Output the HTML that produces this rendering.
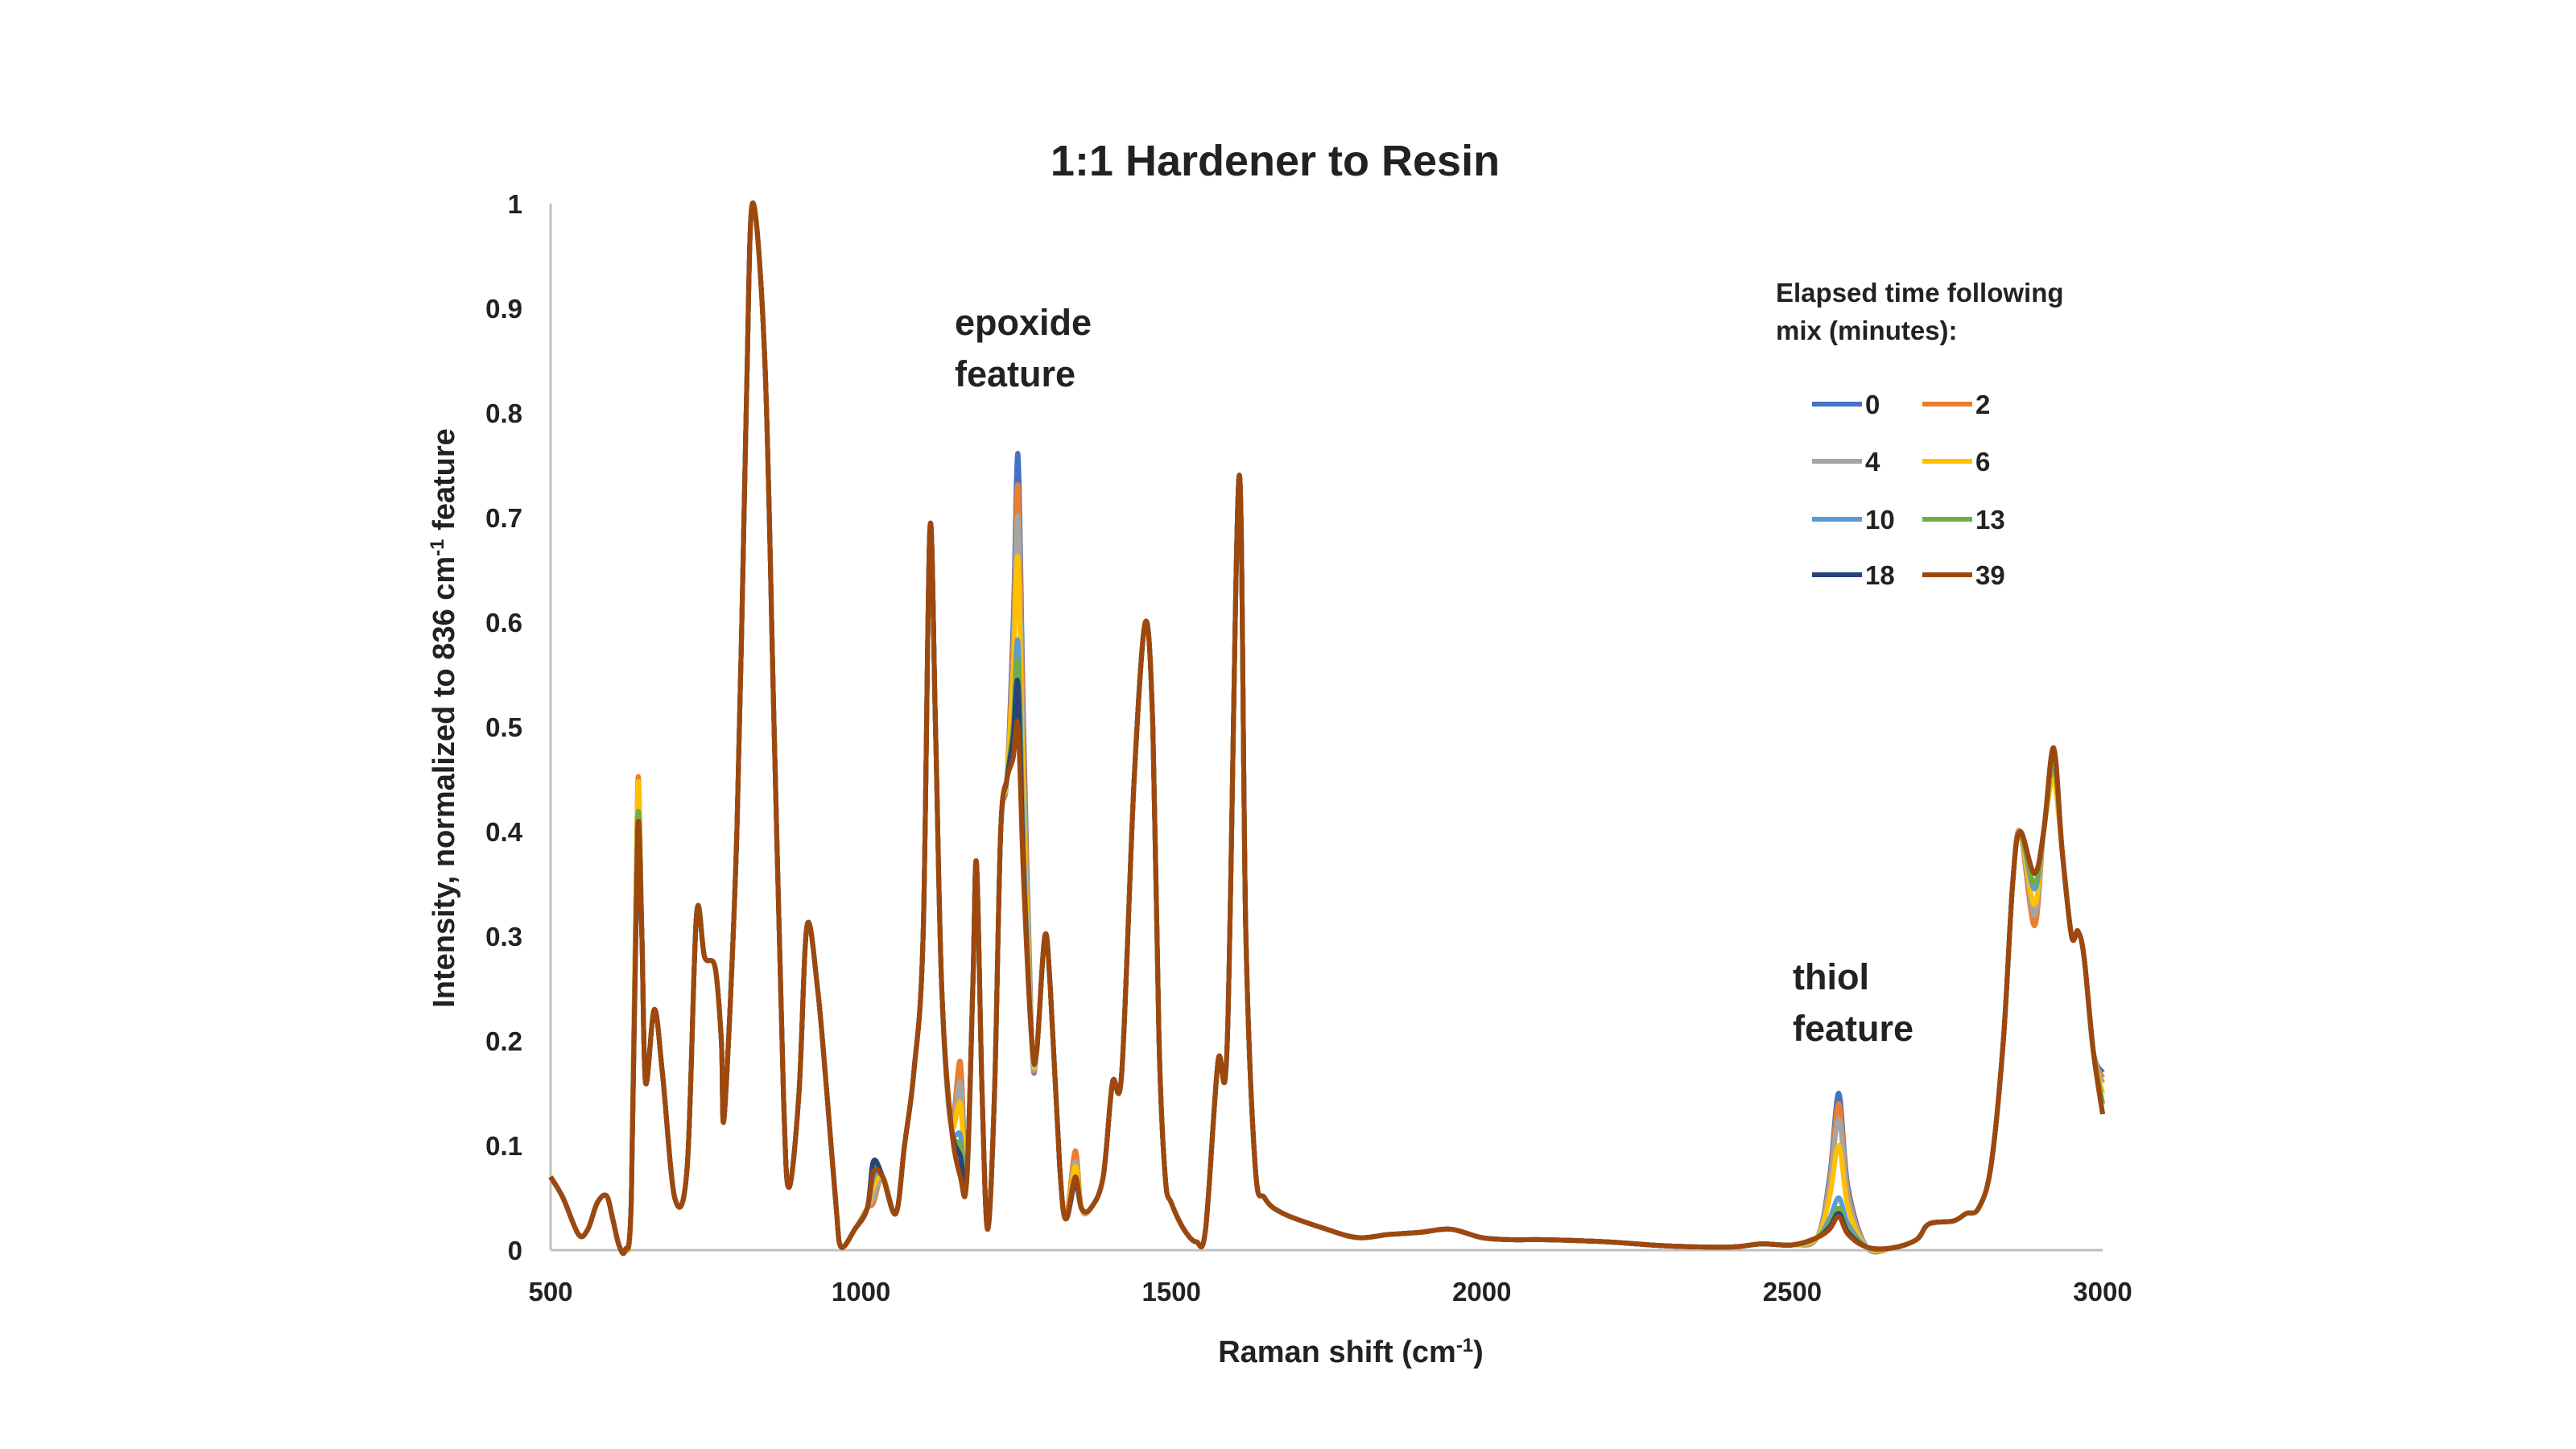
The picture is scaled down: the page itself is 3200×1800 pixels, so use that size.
<!DOCTYPE html>
<html><head><meta charset="utf-8"><style>
html,body{margin:0;padding:0;background:#fff;}
svg{display:block;font-family:"Liberation Sans",sans-serif;}
</style></head><body>
<svg id="chart" width="3200" height="1800" viewBox="0 0 3200 1800" xmlns="http://www.w3.org/2000/svg">
<rect width="3200" height="1800" fill="#fff"/>
<text x="1584" y="218" text-anchor="middle" font-size="54" font-weight="bold" fill="#222">1:1 Hardener to Resin</text>
<g id="axes"></g>
<g id="series"></g>
<text x="1186" y="416" font-size="45" font-weight="bold" fill="#222">epoxide</text>
<text x="1186" y="480" font-size="45" font-weight="bold" fill="#222">feature</text>
<text x="2227" y="1229" font-size="45" font-weight="bold" fill="#222">thiol</text>
<text x="2227" y="1293" font-size="45" font-weight="bold" fill="#222">feature</text>
<text x="1678" y="1692" text-anchor="middle" font-size="38" font-weight="bold" fill="#222">Raman shift (cm<tspan baseline-shift="super" font-size="24">-1</tspan>)</text>
<text transform="translate(564,892) rotate(-90)" text-anchor="middle" font-size="38" font-weight="bold" fill="#222">Intensity, normalized to 836 cm<tspan baseline-shift="super" font-size="24">-1</tspan> feature</text>
<g id="legend">
<text x="2206" y="375" font-size="33" font-weight="bold" fill="#222">Elapsed time following</text>
<text x="2206" y="422" font-size="33" font-weight="bold" fill="#222">mix (minutes):</text>
</g>
</svg>
<script>
const seriesLabels = ["0","2","4","6","10","13","18","39"];
const seriesColors = ["#4472C4","#ED7D31","#A5A5A5","#FFC000","#5B9BD5","#70AD47","#264478","#9E480E"];
const xTicks = [500,1000,1500,2000,2500,3000];
const yTicks = [0,0.1,0.2,0.3,0.4,0.5,0.6,0.7,0.8,0.9,1];
const yTickLabels = ["0","0.1","0.2","0.3","0.4","0.5","0.6","0.7","0.8","0.9","1"];
const baseX = [500,520,545,560,575,590,600,610,620,630,640,647,653,667,680,700,720,735,748,765,775,780,800,815,825,845,860,875,884,900,913,930,945,960,968,990,1010,1020,1035,1056,1070,1085,1100,1111,1120,1130,1145,1160,1170,1180,1186,1195,1204,1215,1225,1235,1245,1253,1262,1275,1283,1296,1305,1320,1330,1345,1355,1370,1390,1405,1420,1440,1458,1470,1480,1490,1500,1520,1540,1555,1575,1590,1609,1620,1635,1650,1680,1750,1800,1850,1900,1950,2000,2050,2100,2200,2300,2400,2450,2500,2540,2560,2575,2590,2620,2660,2700,2720,2760,2780,2800,2820,2840,2855,2867,2890,2905,2921,2935,2950,2960,2970,2985,3000];
const baseY = [0.07,0.05,0.015,0.02,0.045,0.052,0.03,0.005,0.0,0.05,0.40,0.3,0.16,0.23,0.17,0.05,0.08,0.32,0.28,0.27,0.2,0.13,0.4,0.8,1.0,0.85,0.5,0.15,0.06,0.15,0.31,0.25,0.15,0.04,0.003,0.02,0.04,0.075,0.07,0.035,0.1,0.17,0.3,0.69,0.5,0.25,0.12,0.07,0.065,0.25,0.37,0.15,0.02,0.15,0.4,0.45,0.47,0.50,0.35,0.2,0.19,0.3,0.25,0.08,0.03,0.07,0.04,0.04,0.07,0.16,0.17,0.45,0.6,0.5,0.2,0.07,0.045,0.02,0.008,0.02,0.18,0.2,0.74,0.3,0.08,0.05,0.035,0.02,0.012,0.015,0.017,0.02,0.012,0.01,0.01,0.008,0.004,0.003,0.006,0.005,0.012,0.02,0.032,0.015,0.003,0.002,0.01,0.025,0.028,0.035,0.04,0.08,0.2,0.35,0.40,0.36,0.4,0.48,0.38,0.3,0.305,0.28,0.19,0.13];
const featureX = [640,1020,1160,1245,1253,1262,1345,2560,2575,2590,2890,2921,3000];
const s0  = [0.43,0.06,0.18,0.60,0.76,0.50,0.090,0.07,0.150,0.06,0.31,0.46,0.17];
const s2  = [0.445,0.045,0.18,0.58,0.73,0.48,0.095,0.065,0.140,0.055,0.31,0.46,0.165];
const s4  = [0.43,0.05,0.16,0.56,0.70,0.45,0.085,0.06,0.125,0.05,0.32,0.45,0.16];
const s6  = [0.44,0.06,0.14,0.55,0.66,0.42,0.080,0.05,0.100,0.04,0.33,0.45,0.15];
const s10 = [0.41,0.07,0.11,0.50,0.58,0.38,0.070,0.03,0.050,0.025,0.345,0.47,0.14];
const s13 = [0.41,0.08,0.10,0.50,0.56,0.37,0.065,0.025,0.040,0.02,0.35,0.47,0.14];
const s18 = [0.39,0.085,0.09,0.49,0.54,0.36,0.065,0.022,0.035,0.017,0.36,0.48,0.13];
const s39 = [0.40,0.075,0.07,0.47,0.50,0.35,0.070,0.02,0.032,0.015,0.36,0.48,0.13];
const seriesFeatures = [s0,s2,s4,s6,s10,s13,s18,s39];

const X0=684, X1=2612, Y0=1553, Y1=253;
function xScale(v){return X0+(v-500)/(3000-500)*(X1-X0);}
function yScale(v){return Y0-v*(Y0-Y1);}
const NS="http://www.w3.org/2000/svg";
const axes=document.getElementById('axes');
function mk(tag,attrs,parent){const e=document.createElementNS(NS,tag);for(const k in attrs)e.setAttribute(k,attrs[k]);parent.appendChild(e);return e;}
let yl=mk('line',{x1:X0,y1:Y1,x2:X0,y2:Y0,stroke:'#BFBFBF','stroke-width':3},axes);


let xl=mk('line',{x1:X0,y1:Y0,x2:X1,y2:Y0,stroke:'#BFBFBF','stroke-width':3},axes);


yTicks.forEach((t,i)=>{
  const tx=mk('text',{x:649,y:yScale(t)+12,'text-anchor':'end','font-size':33,'font-weight':'bold',fill:'#222'},axes);
  tx.textContent=yTickLabels[i];
  
  
});
xTicks.forEach(t=>{
  const tx=mk('text',{x:xScale(t),y:1616,'text-anchor':'middle','font-size':33,'font-weight':'bold',fill:'#222'},axes);
  tx.textContent=String(t);
  
  
});
function smoothPath(pts){
  let d='M'+pts[0][0].toFixed(1)+','+pts[0][1].toFixed(1);
  for(let i=0;i<pts.length-1;i++){
    const p0=pts[Math.max(0,i-1)],p1=pts[i],p2=pts[i+1],p3=pts[Math.min(pts.length-1,i+2)];
    const c1x=p1[0]+(p2[0]-p0[0])/6,c1y=p1[1]+(p2[1]-p0[1])/6;
    const c2x=p2[0]-(p3[0]-p1[0])/6,c2y=p2[1]-(p3[1]-p1[1])/6;
    d+=' C'+c1x.toFixed(1)+','+c1y.toFixed(1)+' '+c2x.toFixed(1)+','+c2y.toFixed(1)+' '+p2[0].toFixed(1)+','+p2[1].toFixed(1);
  }
  return d;
}
const sg=document.getElementById('series');
seriesLabels.forEach((lab,si)=>{
  const ys=baseY.slice();
  featureX.forEach((fx,fi)=>{const idx=baseX.indexOf(fx);if(idx>=0)ys[idx]=seriesFeatures[si][fi];});
  const pts=baseX.map((x,i)=>[xScale(x),yScale(ys[i])]);
  const p=mk('path',{d:smoothPath(pts),fill:'none',stroke:seriesColors[si],'stroke-width':6,'stroke-linejoin':'round'},sg);
  
  
});
const lg=document.getElementById('legend');
const rowsY=[502,573,645,714];
seriesLabels.forEach((lab,i)=>{
  const col=i%2,row=Math.floor(i/2);
  const lx=col?2388:2251, y=rowsY[row];
  const ln=mk('line',{x1:lx,y1:y,x2:lx+62,y2:y,stroke:seriesColors[i],'stroke-width':6},lg);
  
  
  const tx=mk('text',{x:lx+66,y:y+12,'font-size':33,'font-weight':'bold',fill:'#222'},lg);
  tx.textContent=lab;
  
  
});
</script>
</body></html>
